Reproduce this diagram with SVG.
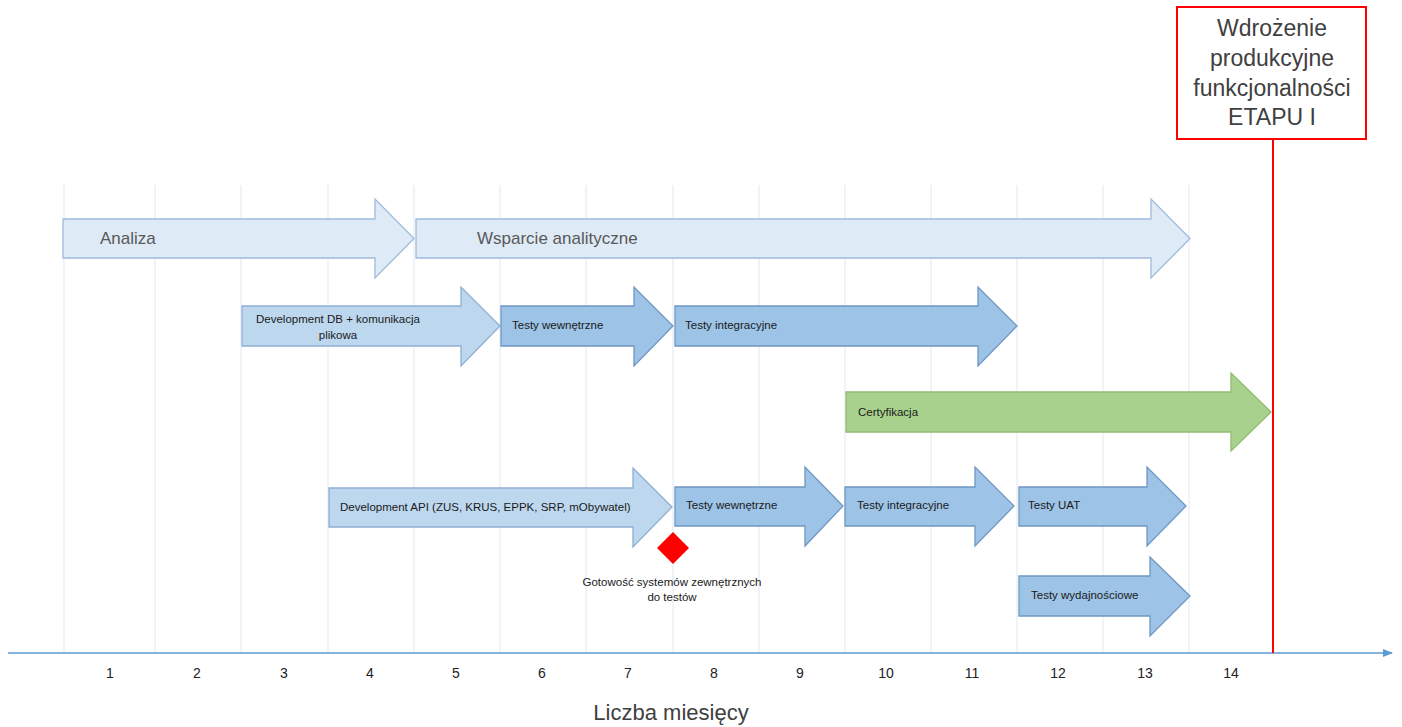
<svg xmlns="http://www.w3.org/2000/svg" width="1402" height="727" viewBox="0 0 1402 727">
<style>
.grid{stroke:#dfe9f5;stroke-width:1}
.a1{fill:#deeaf6;stroke:#9fbbdc;stroke-width:1.3}
.a2{fill:#bdd7ee;stroke:#8eaed2;stroke-width:1.3}
.a3{fill:#9dc3e6;stroke:#6e97c4;stroke-width:1.3}
.ag{fill:#a9d18e;stroke:#8fbd70;stroke-width:1.3}
.big{font-family:"Liberation Sans",Arial,sans-serif;font-size:17px;fill:#595959}
.lbl{font-family:"Liberation Sans",Arial,sans-serif;font-size:11.5px;fill:#1a1a1a}
.num{font-family:"Liberation Sans",Arial,sans-serif;font-size:14px;fill:#222;text-anchor:middle}
.box{font-family:"Liberation Sans",Arial,sans-serif;font-size:23px;fill:#404040;text-anchor:middle}
</style>
<defs>
<marker id="axh" markerWidth="10" markerHeight="8" refX="9" refY="4" orient="auto" markerUnits="userSpaceOnUse">
<path d="M0,0 L10,4 L0,8 Z" fill="#5b9bd5"/>
</marker>
</defs>
<rect width="1402" height="727" fill="#fff"/>
<g id="grid">
<line class="grid" x1="64" y1="185" x2="64" y2="652"/>
<line class="grid" x1="155" y1="185" x2="155" y2="652"/>
<line class="grid" x1="241" y1="185" x2="241" y2="652"/>
<line class="grid" x1="328" y1="185" x2="328" y2="652"/>
<line class="grid" x1="414" y1="185" x2="414" y2="652"/>
<line class="grid" x1="500" y1="185" x2="500" y2="652"/>
<line class="grid" x1="586" y1="185" x2="586" y2="652"/>
<line class="grid" x1="673" y1="185" x2="673" y2="652"/>
<line class="grid" x1="759" y1="185" x2="759" y2="652"/>
<line class="grid" x1="845" y1="185" x2="845" y2="652"/>
<line class="grid" x1="931" y1="185" x2="931" y2="652"/>
<line class="grid" x1="1017" y1="185" x2="1017" y2="652"/>
<line class="grid" x1="1103" y1="185" x2="1103" y2="652"/>
<line class="grid" x1="1189" y1="185" x2="1189" y2="652"/>
</g>
<g id="connectors">
<line x1="8" y1="653" x2="1392" y2="653" stroke="#5b9bd5" stroke-width="1.5" marker-end="url(#axh)"/>
<line x1="1273" y1="139" x2="1273" y2="653" stroke="#ff0000" stroke-width="2"/>
</g>
<g id="axis-labels">
<text class="num" x="110" y="678">1</text>
<text class="num" x="197" y="678">2</text>
<text class="num" x="284" y="678">3</text>
<text class="num" x="370" y="678">4</text>
<text class="num" x="456" y="678">5</text>
<text class="num" x="542" y="678">6</text>
<text class="num" x="628" y="678">7</text>
<text class="num" x="714" y="678">8</text>
<text class="num" x="800" y="678">9</text>
<text class="num" x="886" y="678">10</text>
<text class="num" x="972" y="678">11</text>
<text class="num" x="1058" y="678">12</text>
<text class="num" x="1145" y="678">13</text>
<text class="num" x="1231" y="678">14</text>
<text x="671" y="720" text-anchor="middle" font-family="Liberation Sans,Arial,sans-serif" font-size="22" fill="#404040">Liczba miesięcy</text>
</g>
<g id="milestone-box">
<rect x="1177" y="7" width="189" height="132" fill="#fff" stroke="#ff0000" stroke-width="2"/>
<text class="box" x="1272" y="36">Wdrożenie</text>
<text class="box" x="1272" y="66">produkcyjne</text>
<text class="box" x="1272" y="96">funkcjonalności</text>
<text class="box" x="1272" y="125">ETAPU I</text>
</g>
<g id="analiza">
<path class="a1" d="M63,219 H375 V199 L414,238.5 L375,278 V258 H63 Z"/>
<text class="big" x="100" y="244">Analiza</text>
</g>
<g id="wsparcie">
<path class="a1" d="M416,219 H1151 V199 L1190,238.5 L1151,278 V258 H416 Z"/>
<text class="big" x="477" y="244">Wsparcie analityczne</text>
</g>
<g id="dev-db">
<path class="a2" d="M242,306 H461 V287 L500,326 L461,366 V346 H242 Z"/>
<text class="lbl" x="338" y="323" text-anchor="middle">Development DB + komunikacja</text>
<text class="lbl" x="338" y="339" text-anchor="middle">plikowa</text>
</g>
<g id="testy-wew-1">
<path class="a3" d="M501,306 H634 V287 L673,326 L634,366 V346 H501 Z"/>
<text class="lbl" x="512" y="329">Testy wewnętrzne</text>
</g>
<g id="testy-int-1">
<path class="a3" d="M675,306 H978 V287 L1017,326 L978,366 V346 H675 Z"/>
<text class="lbl" x="685" y="329">Testy integracyjne</text>
</g>
<g id="certyfikacja">
<path class="ag" d="M846,392 H1231 V373 L1271,412 L1231,451 V432 H846 Z"/>
<text class="lbl" x="858" y="416">Certyfikacja</text>
</g>
<g id="dev-api">
<path class="a2" d="M329,488 H633 V468 L672,507 L633,547 V527 H329 Z"/>
<text class="lbl" x="340" y="511">Development API (ZUS, KRUS, EPPK, SRP, mObywatel)</text>
</g>
<g id="testy-wew-2">
<path class="a3" d="M675,487 H805 V467 L843,506 L805,546 V526 H675 Z"/>
<text class="lbl" x="686" y="509">Testy wewnętrzne</text>
</g>
<g id="testy-int-2">
<path class="a3" d="M845,487 H975 V467 L1014,506 L975,546 V526 H845 Z"/>
<text class="lbl" x="857" y="509">Testy integracyjne</text>
</g>
<g id="testy-uat">
<path class="a3" d="M1019,487 H1147 V467 L1186,506 L1147,546 V526 H1019 Z"/>
<text class="lbl" x="1028" y="509">Testy UAT</text>
</g>
<g id="testy-wyd">
<path class="a3" d="M1019,576 H1150 V557 L1190,596 L1150,636 V616 H1019 Z"/>
<text class="lbl" x="1031" y="599">Testy wydajnościowe</text>
</g>
<g id="gotowosc">
<path d="M673,532 L689,548 L673,564 L657,548 Z" fill="#ff0000"/>
<text class="lbl" x="672" y="586" text-anchor="middle">Gotowość systemów zewnętrznych</text>
<text class="lbl" x="672" y="601" text-anchor="middle">do testów</text>
</g>
</svg>
